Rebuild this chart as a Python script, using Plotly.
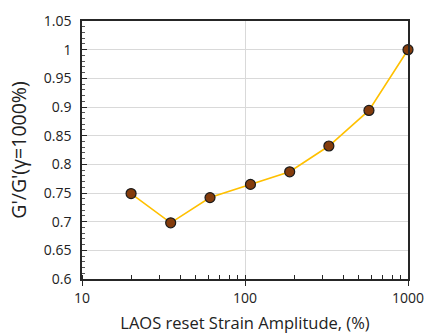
import plotly.graph_objects as go

strain = [20, 35, 61, 108, 188, 327, 576, 1000]
ratio = [0.749, 0.698, 0.742, 0.765, 0.787, 0.832, 0.894, 1.0]
y_range = [0.6, 1.05]
y_step = 0.05
y_minor_step = 0.01
x_decades = [1, 3]

fig = go.Figure()
fig.add_trace(go.Scatter(
    x=strain, y=ratio, mode="lines+markers",
    line=dict(color="#FFC000", width=1.6),
    marker=dict(size=10, color="#843C0C", line=dict(color="#1a1a1a", width=1.2)),
    showlegend=False, cliponaxis=False,
))

font = "Open Sans, Liberation Sans, sans-serif"
fig.update_layout(
    width=426, height=336,
    margin=dict(l=81.5, r=18, t=20.5, b=57.3),
    paper_bgcolor="white", plot_bgcolor="white",
    font=dict(family=font, size=14, color="#222"),
)
fig.update_xaxes(
    type="log", range=x_decades, automargin=False,
    dtick=1, tickformat="d",
    showgrid=True, gridcolor="#d9d9d9", gridwidth=1,
    showline=True, linecolor="#262626", linewidth=1.5, mirror=True,
    ticks="outside", ticklen=5, tickcolor="#262626", tickwidth=1.3,
    minor=dict(ticks="inside", ticklen=4, dtick="D1", tickcolor="#262626",
               tickwidth=1.3, showgrid=False),
    title=dict(text="LAOS reset Strain Amplitude, (%)", font=dict(size=16.5), standoff=12),
    zeroline=False,
)
fig.update_yaxes(
    range=y_range, automargin=False,
    tick0=y_range[0], dtick=y_step,
    showgrid=True, gridcolor="#d9d9d9", gridwidth=1,
    showline=True, linecolor="#262626", linewidth=1.5, mirror=True,
    ticks="inside", ticklen=5, tickcolor="#262626", tickwidth=1.2, ticklabelstandoff=6,
    minor=dict(ticks="inside", ticklen=3.5, tick0=y_range[0], dtick=y_minor_step,
               tickcolor="#555", tickwidth=1, showgrid=False),
    title=dict(text="G'/G'(γ=1000%)", font=dict(size=19.5), standoff=12),
    zeroline=False,
)
fig.write_html("out.html")
